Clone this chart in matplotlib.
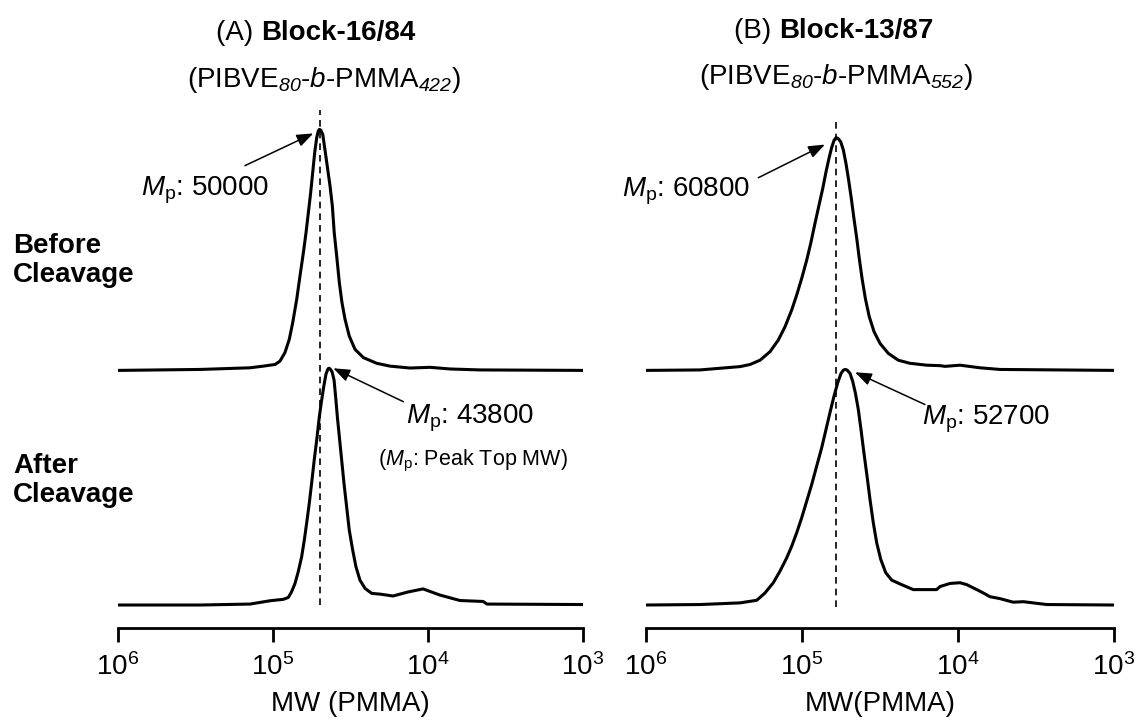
import numpy as np
import matplotlib
matplotlib.use("Agg")
import matplotlib.pyplot as plt
from matplotlib.ticker import NullLocator

plt.rcParams["font.family"] = "Liberation Sans"
plt.rcParams["mathtext.fontset"] = "custom"
plt.rcParams["mathtext.rm"] = "Liberation Sans"
plt.rcParams["mathtext.it"] = "Liberation Sans:italic"
plt.rcParams["mathtext.sf"] = "Liberation Sans:italic"   # italic digits in subscripts
plt.rcParams["mathtext.bf"] = "Liberation Sans:bold"

FS = 20

# GPC traces: log10(MW) and RI signal (after-cleavage peak ~ 1)
a_before_lg = [6.000, 5.471, 5.148, 5.063, 4.987, 4.955, 4.923, 4.895, 4.873, 4.847, 4.826, 4.804,
               4.787, 4.772, 4.757, 4.744, 4.731, 4.718, 4.708, 4.701, 4.692, 4.679, 4.665, 4.650,
               4.632, 4.617, 4.605, 4.589, 4.572, 4.555, 4.535, 4.508, 4.471, 4.417, 4.331, 4.245,
               4.181, 4.116, 3.987, 3.858, 3.665, 3.000]
a_before_i = [0.000, 0.004, 0.011, 0.018, 0.025, 0.039, 0.075, 0.131, 0.201, 0.300, 0.398, 0.497,
              0.581, 0.665, 0.750, 0.834, 0.919, 0.982, 1.010, 1.017, 1.014, 0.996, 0.932, 0.862,
              0.778, 0.693, 0.581, 0.482, 0.370, 0.286, 0.215, 0.145, 0.089, 0.054, 0.030, 0.018,
              0.014, 0.010, 0.013, 0.006, 0.002, 0.000]

a_after_lg = [6.000, 5.471, 5.148, 5.019, 4.933, 4.901, 4.880, 4.858, 4.837, 4.815, 4.798, 4.783,
              4.766, 4.751, 4.734, 4.718, 4.701, 4.686, 4.671, 4.658, 4.647, 4.641, 4.632, 4.619,
              4.606, 4.594, 4.585, 4.572, 4.557, 4.542, 4.525, 4.508, 4.486, 4.465, 4.439, 4.406,
              4.363, 4.310, 4.226, 4.129, 4.032, 3.923, 3.794, 3.645, 3.619, 3.000]
a_after_i = [0.000, 0.000, 0.004, 0.018, 0.024, 0.032, 0.056, 0.091, 0.141, 0.204, 0.274, 0.345,
             0.429, 0.513, 0.612, 0.696, 0.795, 0.865, 0.928, 0.975, 0.994, 0.999, 0.997, 0.984,
             0.949, 0.865, 0.795, 0.710, 0.612, 0.513, 0.415, 0.316, 0.232, 0.162, 0.105, 0.070,
             0.049, 0.046, 0.038, 0.055, 0.068, 0.042, 0.019, 0.015, 0.004, 0.002]

b_before_lg = [6.000, 5.654, 5.397, 5.333, 5.269, 5.205, 5.152, 5.109, 5.066, 5.034, 5.002, 4.970,
               4.944, 4.917, 4.891, 4.867, 4.846, 4.827, 4.810, 4.795, 4.782, 4.769, 4.752, 4.735,
               4.718, 4.701, 4.684, 4.667, 4.649, 4.633, 4.615, 4.594, 4.569, 4.538, 4.500, 4.447,
               4.383, 4.308, 4.201, 4.115, 4.083, 3.987, 3.859, 3.731, 3.000]
b_before_i = [0.000, 0.002, 0.016, 0.025, 0.043, 0.079, 0.128, 0.184, 0.255, 0.318, 0.388, 0.465,
              0.536, 0.620, 0.697, 0.768, 0.838, 0.895, 0.940, 0.970, 0.982, 0.979, 0.965, 0.930,
              0.873, 0.803, 0.726, 0.641, 0.557, 0.473, 0.388, 0.304, 0.227, 0.163, 0.114, 0.072,
              0.043, 0.030, 0.022, 0.020, 0.017, 0.022, 0.011, 0.004, 0.000]

b_after_lg = [6.000, 5.654, 5.397, 5.290, 5.237, 5.184, 5.141, 5.098, 5.066, 5.034, 5.002, 4.970,
              4.938, 4.906, 4.874, 4.846, 4.821, 4.795, 4.771, 4.750, 4.735, 4.722, 4.710, 4.692,
              4.675, 4.658, 4.639, 4.622, 4.603, 4.583, 4.564, 4.543, 4.521, 4.495, 4.463, 4.425,
              4.372, 4.287, 4.137, 4.115, 4.051, 3.987, 3.944, 3.880, 3.838, 3.795, 3.731, 3.647,
              3.581, 3.431, 3.000]
b_after_i = [0.000, 0.002, 0.009, 0.020, 0.051, 0.094, 0.143, 0.199, 0.248, 0.305, 0.368, 0.438,
             0.508, 0.586, 0.663, 0.741, 0.811, 0.881, 0.938, 0.977, 0.991, 0.994, 0.991, 0.977,
             0.944, 0.895, 0.825, 0.741, 0.642, 0.543, 0.445, 0.347, 0.262, 0.192, 0.136, 0.105,
             0.089, 0.065, 0.065, 0.078, 0.091, 0.094, 0.086, 0.065, 0.051, 0.035, 0.027, 0.012,
             0.014, 0.002, 0.000]

mp_before = [50000, 60800]
mp_after = [43800, 52700]
titles = ["Block-16/84", "Block-13/87"]
letters = ["(A) ", "(B) "]
subtitles = [r"(PIBVE$_{\mathsf{80}}$-$\mathit{b}$-PMMA$_{\mathsf{422}}$)",
             r"(PIBVE$_{\mathsf{80}}$-$\mathit{b}$-PMMA$_{\mathsf{552}}$)"]
xlabels = ["MW (PMMA)", "MW(PMMA)"]

OFFSET = 0.99

fig = plt.figure(figsize=(11.41, 7.22), dpi=100)
W, H = 1141, 722
axA = fig.add_axes([118 / W, 1 - 628 / H, 465 / W, 528 / H])
axB = fig.add_axes([646 / W, 1 - 628 / H, 468 / W, 528 / H])

traces = [(a_before_lg, a_before_i, a_after_lg, a_after_i),
          (b_before_lg, b_before_i, b_after_lg, b_after_i)]

for k, ax in enumerate([axA, axB]):
    blg, bi, alg, ai = traces[k]
    ax.plot(10 ** np.array(blg), np.array(bi) + OFFSET, color="black", lw=2.2,
            solid_joinstyle="round")
    ax.plot(10 ** np.array(alg), np.array(ai), color="black", lw=2.2,
            solid_joinstyle="round")
    ax.set_xscale("log")
    ax.set_xlim(1e6, 1e3)
    ax.set_ylim(-0.097, 2.131)
    ax.set_xticks([1e6, 1e5, 1e4, 1e3])
    ax.xaxis.set_minor_locator(NullLocator())
    ax.set_yticks([])
    for s in ["left", "right", "top"]:
        ax.spines[s].set_visible(False)
    ax.spines["bottom"].set_linewidth(2.0)
    ax.tick_params(axis="x", direction="out", length=10, width=2.0, pad=8, labelsize=FS)
    ax.set_xlabel(xlabels[k], fontsize=FS, labelpad=7)
    ax.patch.set_visible(False)

    # dashed line through the peak before cleavage
    ax.plot([mp_before[k], mp_before[k]], [-0.01 if k else 0.0, 2.09 - 0.035 * k],
            color="black", lw=1.2, ls=(0, (4, 3)))

arrow = dict(arrowstyle="-|>,head_length=1.0,head_width=0.38", color="black", lw=1.1,
             shrinkA=0, shrinkB=0)

# panel A annotations
axA.annotate("", xy=(10 ** 4.74, 1.99), xytext=(10 ** 5.181, 1.854), arrowprops=arrow)
axA.text(10 ** 5.853, 1.730, r"$\mathit{M}_\mathrm{p}$: %d" % mp_before[0], fontsize=FS,
         va="baseline", ha="left")
axA.annotate("", xy=(10 ** 4.611, 0.999), xytext=(10 ** 4.159, 0.858), arrowprops=arrow)
axA.text(10 ** 4.142, 0.764, r"$\mathit{M}_\mathrm{p}$: %d" % mp_after[0], fontsize=FS,
         va="baseline", ha="left")
axA.text(10 ** 4.323, 0.591, r"($\mathit{M}_\mathrm{p}$: Peak Top MW)", fontsize=15.5,
         va="baseline", ha="left")

# panel B annotations
axB.annotate("", xy=(10 ** 4.853, 1.943), xytext=(10 ** 5.280, 1.803), arrowprops=arrow)
axB.text(10 ** 6.154, 1.724, r"$\mathit{M}_\mathrm{p}$: %d" % mp_before[1], fontsize=FS,
         va="baseline", ha="left", clip_on=False)
axB.annotate("", xy=(10 ** 4.660, 0.982), xytext=(10 ** 4.212, 0.846), arrowprops=arrow)
axB.text(10 ** 4.231, 0.762, r"$\mathit{M}_\mathrm{p}$: %d" % mp_after[1], fontsize=FS,
         va="baseline", ha="left")

# titles
split_x = [261, 779]
title_y = [40, 38]
sub_x = [324, 836]
sub_y = [87, 84]
for k in range(2):
    fig.text(split_x[k] / W, 1 - title_y[k] / H, letters[k], fontsize=FS, ha="right",
             va="baseline")
    fig.text(split_x[k] / W, 1 - title_y[k] / H, titles[k], fontsize=FS, ha="left",
             va="baseline", fontweight="bold")
    fig.text(sub_x[k] / W, 1 - sub_y[k] / H, subtitles[k], fontsize=FS, ha="center",
             va="baseline")

# row labels
fig.text(13 / W, 1 - 233 / H, "Before\nCleavage", fontsize=FS, fontweight="bold",
         ha="left", va="top", linespacing=1.15)
fig.text(13 / W, 1 - 453 / H, "After\nCleavage", fontsize=FS, fontweight="bold",
         ha="left", va="top", linespacing=1.15)

fig.savefig("out.png", dpi=100)
